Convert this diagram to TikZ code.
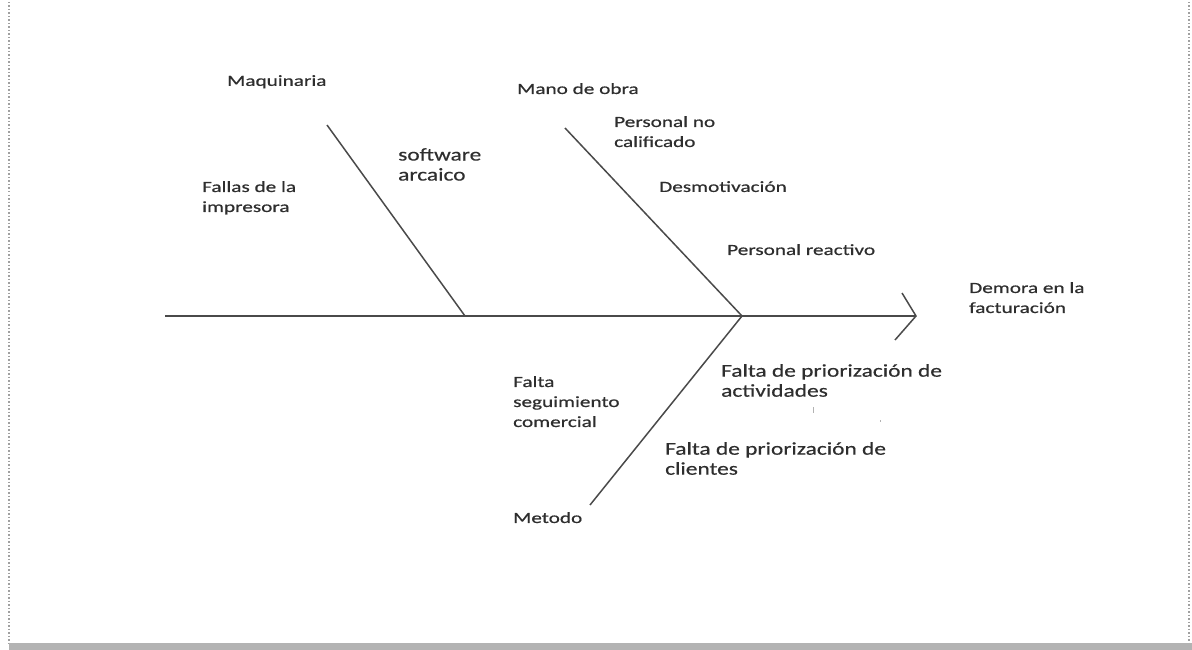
\documentclass[tikz,border=0pt]{standalone}
\usepackage{fontspec}
\setmainfont{Carlito}
\newfontfamily\smallf[FakeStretch=1.37,FakeBold=0.6]{Carlito}
\newfontfamily\largef[FakeStretch=1.3,FakeBold=0.5]{Carlito}
\definecolor{linec}{HTML}{4A4A4A}
\definecolor{txtc}{HTML}{2E2E2E}
\definecolor{framec}{HTML}{A0A0A0}
\begin{document}
\begin{tikzpicture}[x=1pt,y=-1pt,
  bone/.style={draw=linec, line width=1.5pt},
  lbl/.style={font=\smallf\fontsize{15.5}{20}\selectfont, text=txtc, anchor=north west, inner sep=0pt, align=left},
  lbig/.style={font=\largef\fontsize{18}{20}\selectfont, text=txtc, anchor=north west, inner sep=0pt, align=left},
  framel/.style={draw=framec, line width=1.5pt, dotted}]
\useasboundingbox (0,0) rectangle (1192,650);
% frame
\draw[framel] (9,2) -- (9,643);
\draw[framel] (1189,2) -- (1189,643);
\fill[framec!80] (9,643) rectangle (1192,650);
% coordinates
\coordinate (spineL) at (165,316);
\coordinate (head) at (916,316);
\coordinate (headT) at (902,293);
\coordinate (headB) at (895,340);
\coordinate (maqTop) at (327,125);
\coordinate (maqBot) at (465,316);
\coordinate (manoTop) at (565,128);
\coordinate (joint) at (742,316);
\coordinate (metBot) at (590,505);
% bones
\draw[bone] (spineL) -- (head);
\draw[bone] (headT) -- (head) -- (headB);
\draw[bone] (maqTop) -- (maqBot);
\draw[bone] (manoTop) -- (joint);
\draw[bone] (joint) -- (metBot);
% labels
\node[lbl] (maq) at (227,75) {Maquinaria};
\node[lbl] (fallas) at (202,181) {Fallas de la\\impresora};
\node[lbig] (soft) at (398,148) {software\\arcaico};
\node[lbl] (mano) at (517,83) {Mano de obra};
\node[lbl] (pnc) at (614,116) {Personal no\\calificado};
\node[lbl] (desm) at (659,181) {Desmotivación};
\node[lbl] (preac) at (727,244) {Personal reactivo};
\node[lbl] (demora) at (969,282) {Demora en la\\facturación};
\node[lbig] (fpa) at (721,364) {Falta de priorización de\\actividades};
\node[lbig] (fpc) at (665,442) {Falta de priorización de\\clientes};
\node[lbl] (fsc) at (513,376) {Falta\\seguimiento\\comercial};
\node[lbl] (met) at (513,512) {Metodo};
% stray marks
\fill[gray!60] (812.5,407) rectangle (813.5,413);
\fill[gray!60] (879.5,420) rectangle (880.5,422);
\end{tikzpicture}
\end{document}
